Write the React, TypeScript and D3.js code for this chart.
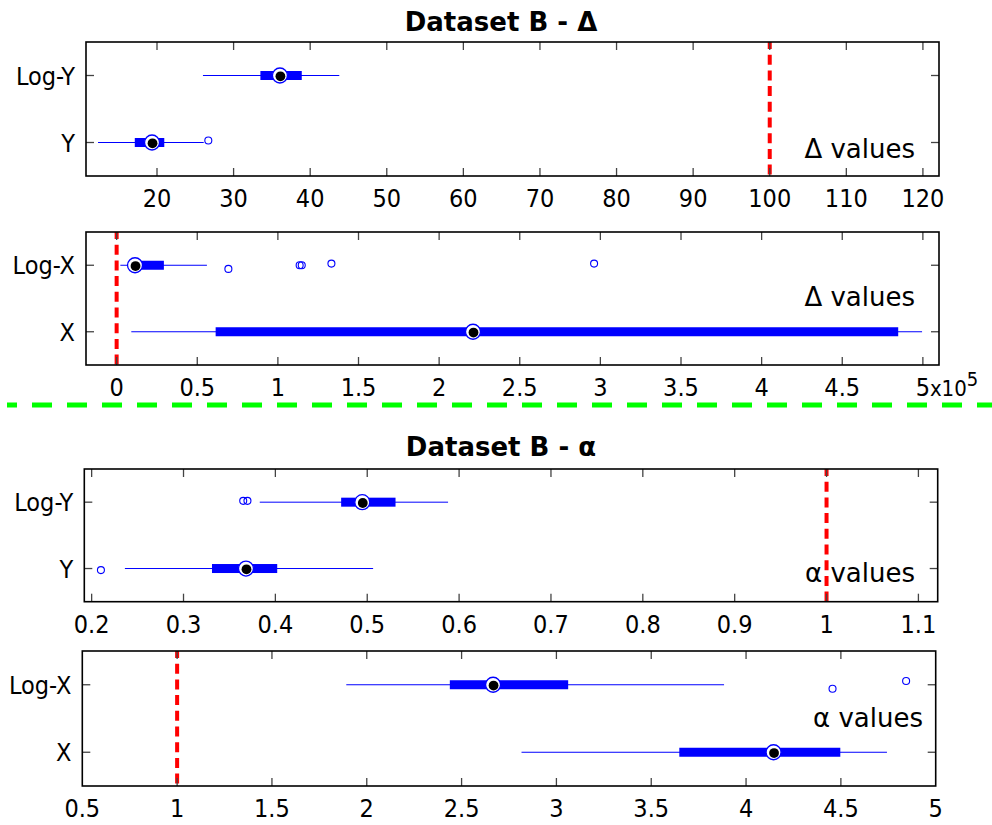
import React from "react";
import * as d3 from "d3";

// ---------- DATA ----------
type Box = { cat: string; lo: number; q1: number; med: number; q3: number; hi: number; out: number[]; jit: number[] };

const deltaYTicks = [20, 30, 40, 50, 60, 70, 80, 90, 100, 110, 120];
const deltaYStats: Box[] = [
  { cat: "Log-Y", lo: 26.0, q1: 33.5, med: 36.05, q3: 38.9, hi: 43.8, out: [], jit: [] },
  { cat: "Y", lo: 12.3, q1: 17.1, med: 19.35, q3: 20.95, hi: 26.1, out: [26.7], jit: [-0.03] },
];

const deltaXTicks = [0, 0.5, 1, 1.5, 2, 2.5, 3, 3.5, 4, 4.5, 5];
const deltaXStats: Box[] = [
  { cat: "Log-X", lo: 0.023, q1: 0.09, med: 0.114, q3: 0.293, hi: 0.56, out: [0.693, 1.135, 1.148, 1.332, 2.961], jit: [0.055, 0, 0, -0.025, -0.025] },
  { cat: "X", lo: 0.091, q1: 0.614, med: 2.21, q3: 4.847, hi: 4.995, out: [], jit: [] },
];

const alphaYTicks = [0.2, 0.3, 0.4, 0.5, 0.6, 0.7, 0.8, 0.9, 1, 1.1];
const alphaYStats: Box[] = [
  { cat: "Log-Y", lo: 0.383, q1: 0.4716, med: 0.4946, q3: 0.5308, hi: 0.588, out: [0.365, 0.3696], jit: [-0.02, -0.02] },
  { cat: "Y", lo: 0.2362, q1: 0.331, med: 0.368, q3: 0.402, hi: 0.5064, out: [0.2101], jit: [0.024] },
];

const alphaXTicks = [0.5, 1, 1.5, 2, 2.5, 3, 3.5, 4, 4.5, 5];
const alphaXStats: Box[] = [
  { cat: "Log-X", lo: 1.892, q1: 2.438, med: 2.666, q3: 3.062, hi: 3.884, out: [4.456, 4.844], jit: [0.06, -0.055] },
  { cat: "X", lo: 2.816, q1: 3.648, med: 4.145, q3: 4.497, hi: 4.743, out: [], jit: [] },
];

const titles = ["Dataset B - \u0394", "Dataset B - \u03B1"];
const valueLabels = ["\u0394 values", "\u0394 values", "\u03B1 values", "\u03B1 values"];
const refValues = [100, 0, 1, 1];

// ---------- LAYOUT ----------
const TICK_FONT = "'DejaVu Sans Condensed', 'DejaVu Sans', sans-serif";
const TEXT_FONT = "'DejaVu Sans', sans-serif";
const BLUE = "#0000ff";

const fmt = (v: number) => String(+v.toFixed(2));

type PanelProps = {
  left: number; right: number; top: number; bottom: number;
  domain: [number, number];
  ticks: number[];
  stats: Box[];
  refValue: number;
  label: string;
  labelRight: number;
  labelBaseline: number;
  exponent?: string;
};

function Panel(p: PanelProps) {
  const x = d3.scaleLinear().domain(p.domain).range([p.left, p.right]);
  const y = d3.scaleLinear().domain([0.5, 2.5]).range([p.top, p.bottom]);
  const tickLen = 8;
  const rowY = (i: number) => y(i + 1);
  const innerTicks = p.ticks.filter((t) => x(t) > p.left + 1 && x(t) < p.right - 1);
  return (
    <g>
      {/* ref line */}
      <line x1={x(p.refValue)} x2={x(p.refValue)} y1={p.top} y2={p.bottom + 2}
        stroke="#ff0000" strokeWidth={4} strokeDasharray="10 5.7" strokeDashoffset={3} />
      {/* x ticks */}
      {innerTicks.map((t) => (
        <g key={"xt" + t}>
          <line x1={x(t)} x2={x(t)} y1={p.top} y2={p.top + tickLen} stroke="#444" strokeWidth={1.3} />
          <line x1={x(t)} x2={x(t)} y1={p.bottom} y2={p.bottom - tickLen} stroke="#444" strokeWidth={1.3} />
        </g>
      ))}
      {p.ticks.map((t) => (
        <text key={"xl" + t} x={x(t)} y={p.bottom + 31} textAnchor="middle"
          fontFamily={TICK_FONT} fontSize={25} fill="#000">{fmt(t)}</text>
      ))}
      {p.exponent && (
        <text x={x(p.ticks[p.ticks.length - 1]) + 7} y={p.bottom + 31} fontFamily={TICK_FONT} fontSize={22} fill="#000">
          x10<tspan dy={-10} fontSize={20}>{p.exponent}</tspan>
        </text>
      )}
      {/* y ticks & labels */}
      {p.stats.map((s, i) => (
        <g key={"yt" + i}>
          <line x1={p.left} x2={p.left + tickLen} y1={rowY(i)} y2={rowY(i)} stroke="#444" strokeWidth={1.3} />
          <line x1={p.right} x2={p.right - tickLen} y1={rowY(i)} y2={rowY(i)} stroke="#444" strokeWidth={1.3} />
          <text x={p.left - 11} y={rowY(i) + 9} textAnchor="end" fontFamily={TICK_FONT} fontSize={25} fill="#000">{s.cat}</text>
        </g>
      ))}
      {/* boxes */}
      {p.stats.map((s, i) => {
        const cy = rowY(i);
        return (
          <g key={"b" + i}>
            <line x1={x(s.lo)} x2={x(s.hi)} y1={cy} y2={cy} stroke={BLUE} strokeWidth={1} />
            <rect x={x(s.q1)} y={cy - 4.5} width={x(s.q3) - x(s.q1)} height={9} fill={BLUE} />
            {s.out.map((o, j) => (
              <circle key={j} cx={x(o)} cy={y(i + 1 + s.jit[j])} r={3.5} fill="none" stroke={BLUE} strokeWidth={1.1} />
            ))}
            <circle cx={x(s.med)} cy={cy} r={7.5} fill="#fff" stroke={BLUE} strokeWidth={1.3} />
            <circle cx={x(s.med) + 0.5} cy={cy + 0.8} r={4.9} fill="#000" />
          </g>
        );
      })}
      {/* value label */}
      <text x={p.labelRight} y={p.labelBaseline} textAnchor="end" fontFamily={TEXT_FONT} fontSize={26} fill="#000">{p.label}</text>
      {/* frame */}
      <rect x={p.left} y={p.top} width={p.right - p.left} height={p.bottom - p.top} fill="none" stroke="#000" strokeWidth={1.6} />
    </g>
  );
}

export default function App() {
  return (
    <svg width={992} height={825} viewBox="0 0 992 825"
      style={{ position: "absolute", left: 0, top: 0, background: "#fff" }}>
      <rect x={0} y={0} width={992} height={825} fill="#fff" />
      <text x={501} y={31} textAnchor="middle" fontFamily={TEXT_FONT} fontWeight="bold" fontSize={26}>{titles[0]}</text>
      <Panel left={86} right={939} top={42} bottom={176} domain={[10.73, 122.1]} ticks={deltaYTicks}
        stats={deltaYStats} refValue={refValues[0]} label={valueLabels[0]} labelRight={915} labelBaseline={158} />
      <Panel left={86} right={939} top={232} bottom={365} domain={[-0.19, 5.1]} ticks={deltaXTicks}
        stats={deltaXStats} refValue={refValues[1]} label={valueLabels[1]} labelRight={915} labelBaseline={306} exponent="5" />
      <line x1={7} x2={992} y1={405} y2={405} stroke="#00ff00" strokeWidth={5} strokeDasharray="20 15" strokeDashoffset={10} />
      <text x={501} y={456} textAnchor="middle" fontFamily={TEXT_FONT} fontWeight="bold" fontSize={26}>{titles[1]}</text>
      <Panel left={84.3} right={937.7} top={469} bottom={601.7} domain={[0.192, 1.121]} ticks={alphaYTicks}
        stats={alphaYStats} refValue={refValues[2]} label={valueLabels[2]} labelRight={915} labelBaseline={582} />
      <Panel left={82.3} right={935.7} top={651} bottom={786} domain={[0.5, 5]} ticks={alphaXTicks}
        stats={alphaXStats} refValue={refValues[3]} label={valueLabels[3]} labelRight={923} labelBaseline={727} />
    </svg>
  );
}
